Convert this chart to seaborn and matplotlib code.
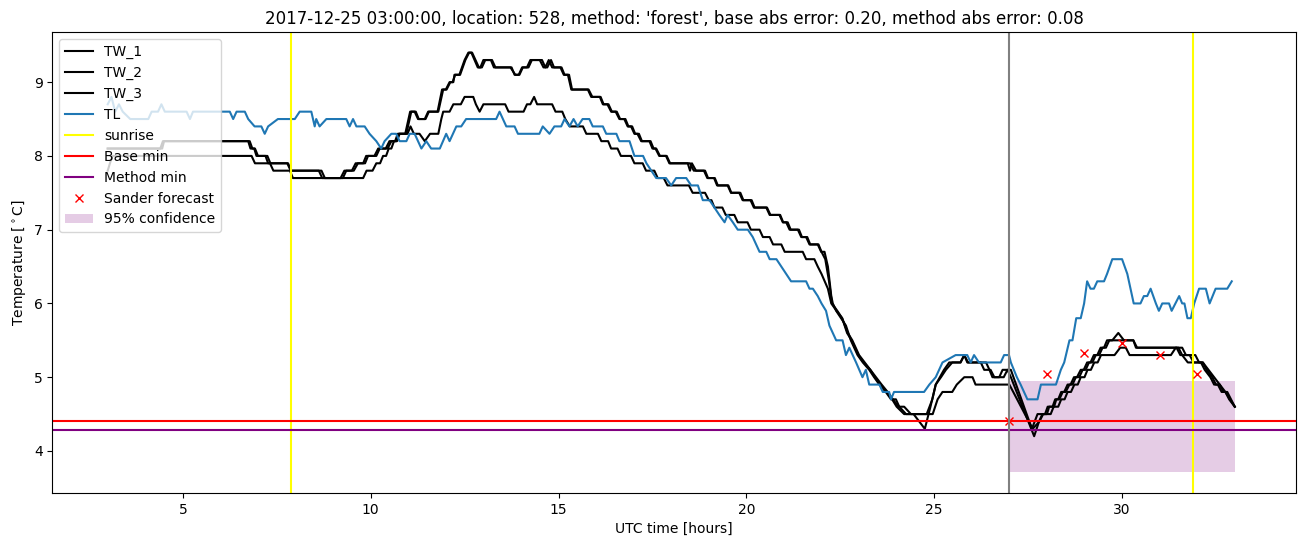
import numpy as np
import pandas as pd
import seaborn as sns
import matplotlib
matplotlib.use("Agg")
import matplotlib.pyplot as plt

# water temperature sensors (hours UTC, degrees C)
tw1_t = [3.0, 4.45, 4.5, 6.74, 6.8, 6.9, 6.96, 7.2, 7.27, 7.35, 7.4, 7.8, 7.89, 8.69, 8.78, 9.26,
         9.35, 9.55, 9.66, 9.85, 9.93, 10.15, 10.24, 10.45, 10.55, 10.7, 10.77, 10.95, 11.08, 11.17,
         11.26, 11.44, 11.53, 11.8, 11.93, 12.0, 12.1, 12.2, 12.23, 12.36, 12.5, 12.6, 12.7, 12.88,
         12.96, 13.05, 13.23, 13.32, 13.72, 13.85, 13.94, 14.03, 14.2, 14.29, 14.56, 14.65, 14.74,
         14.83, 15.05, 15.14, 15.25, 15.34, 15.78, 15.87, 16.1, 16.18, 16.3, 16.4, 16.52, 16.62,
         16.75, 16.84, 16.93, 17.02, 17.1, 17.2, 17.42, 17.5, 17.58, 17.68, 17.86, 17.95, 18.44,
         18.5, 18.55, 18.66, 18.87, 18.96, 19.14, 19.22, 19.5, 19.59, 19.81, 19.9, 20.11, 20.2,
         20.53, 20.62, 20.88, 20.97, 21.06, 21.15, 21.37, 21.46, 21.59, 21.68, 21.9, 21.99, 22.08,
         22.17, 22.26, 22.3, 22.39, 22.52, 22.65, 22.78, 22.96, 23.1, 23.27, 23.4, 23.54, 23.71,
         23.85, 23.98, 24.07, 24.25, 24.8, 24.95, 25.04, 25.18, 25.31, 25.48, 25.7, 25.8, 25.88,
         26.24, 26.33, 26.5, 26.6, 26.73, 26.82, 26.95, 27.04, 27.66, 27.79, 27.88, 28.0, 28.06,
         28.19, 28.25, 28.33, 28.42, 28.5, 28.6, 28.68, 28.77, 28.86, 28.95, 29.03, 29.12, 29.21,
         29.3, 29.39, 29.48, 29.57, 29.66, 29.74, 29.9, 30.05, 30.3, 30.37, 31.45, 31.55, 31.8,
         31.9, 32.1, 32.2, 32.35, 32.45, 32.55, 32.65, 32.75, 32.85, 33.0]
tw1_v = [8.1, 8.1, 8.2, 8.2, 8.1, 8.1, 8.0, 8.0, 7.9, 7.9, 7.9, 7.9, 7.8, 7.8, 7.7, 7.7,
         7.8, 7.8, 7.9, 7.9, 8.0, 8.0, 8.1, 8.1, 8.2, 8.2, 8.3, 8.3, 8.6, 8.6,
         8.5, 8.5, 8.6, 8.6, 8.9, 8.9, 9.0, 9.0, 9.1, 9.1, 9.3, 9.4, 9.4, 9.2,
         9.2, 9.3, 9.3, 9.2, 9.2, 9.1, 9.1, 9.2, 9.2, 9.3, 9.3, 9.2, 9.3,
         9.2, 9.2, 9.1, 9.1, 8.9, 8.9, 8.8, 8.8, 8.7, 8.7, 8.6, 8.6, 8.5,
         8.5, 8.4, 8.4, 8.3, 8.3, 8.2, 8.2, 8.1, 8.1, 8.0, 8.0, 7.9, 7.9,
         7.8, 7.9, 7.8, 7.8, 7.7, 7.7, 7.6, 7.6, 7.5, 7.5, 7.4, 7.4, 7.3,
         7.3, 7.2, 7.2, 7.1, 7.1, 7.0, 7.0, 6.9, 6.9, 6.8, 6.8, 6.7, 6.7,
         6.5, 6.1, 6.0, 5.9, 5.8, 5.7, 5.5, 5.3, 5.2, 5.1, 5.0, 4.9, 4.8,
         4.7, 4.7, 4.6, 4.5, 4.5, 4.7, 4.9, 5.0, 5.1, 5.2, 5.2, 5.3, 5.2,
         5.2, 5.1, 5.1, 5.0, 5.0, 5.1, 5.1, 5.0, 4.2, 4.4, 4.5, 4.5, 4.6,
         4.6, 4.7, 4.7, 4.8, 4.8, 4.9, 4.9, 5.0, 5.0, 5.1, 5.1, 5.2, 5.2,
         5.3, 5.3, 5.4, 5.4, 5.5, 5.5, 5.6, 5.5, 5.5, 5.4, 5.4, 5.3, 5.3,
         5.2, 5.2, 5.1, 5.0, 4.9, 4.9, 4.8, 4.8, 4.7, 4.6]

tw2_t = [3.0, 4.4, 4.47, 6.78, 6.85, 6.92, 7.0, 7.25, 7.33, 7.78, 7.87, 8.62, 8.71, 9.2, 9.3,
         9.5, 9.6, 9.8, 9.88, 10.1, 10.2, 10.4, 10.5, 10.65, 10.72, 10.92, 11.05, 11.2, 11.28,
         11.46, 11.55, 11.78, 11.9, 12.02, 12.12, 12.18, 12.25, 12.38, 12.52, 12.62, 12.68,
         12.85, 12.92, 13.0, 13.2, 13.28, 13.75, 13.83, 13.96, 14.05, 14.16, 14.25, 14.5, 14.6,
         14.7, 14.8, 14.88, 15.08, 15.16, 15.28, 15.36, 15.8, 15.9, 16.12, 16.2, 16.33, 16.42,
         16.55, 16.64, 16.78, 16.86, 16.96, 17.04, 17.14, 17.22, 17.45, 17.53, 17.6, 17.7,
         17.88, 17.97, 18.5, 18.6, 18.9, 18.98, 19.16, 19.24, 19.52, 19.6, 19.84, 19.92, 20.14,
         20.22, 20.55, 20.64, 20.9, 20.98, 21.1, 21.18, 21.4, 21.48, 21.62, 21.7, 21.92, 22.0,
         22.1, 22.2, 22.28, 22.42, 22.55, 22.68, 22.8, 22.98, 23.12, 23.3, 23.42, 23.56, 23.74,
         23.88, 24.0, 24.2, 24.45, 24.6, 24.75, 24.9, 25.04, 25.15, 25.26, 25.4, 25.7, 25.8,
         25.9, 26.38, 26.47, 26.55, 26.85, 26.95, 27.04, 27.6, 27.75, 27.95, 28.02, 28.15,
         28.22, 28.3, 28.38, 28.46, 28.55, 28.63, 28.72, 28.8, 28.9, 28.98, 29.07, 29.16, 29.25,
         29.34, 29.43, 29.52, 29.6, 30.3, 30.4, 31.6, 31.7, 31.95, 32.05, 32.15, 32.25, 32.4,
         32.5, 32.6, 32.7, 32.8, 32.9, 33.0]
tw2_v = [8.1, 8.1, 8.2, 8.2, 8.1, 8.1, 8.0, 8.0, 7.9, 7.9, 7.8, 7.8, 7.7, 7.7, 7.8,
         7.8, 7.9, 7.9, 8.0, 8.0, 8.1, 8.1, 8.2, 8.2, 8.3, 8.3, 8.6, 8.6, 8.5,
         8.5, 8.6, 8.6, 8.9, 8.9, 9.0, 9.0, 9.1, 9.1, 9.3, 9.4, 9.4,
         9.2, 9.2, 9.3, 9.3, 9.2, 9.2, 9.1, 9.1, 9.2, 9.2, 9.3, 9.3, 9.2,
         9.2, 9.3, 9.2, 9.2, 9.1, 9.1, 8.9, 8.9, 8.8, 8.8, 8.7, 8.7, 8.6,
         8.6, 8.5, 8.5, 8.4, 8.4, 8.3, 8.3, 8.2, 8.2, 8.1, 8.1, 8.0,
         8.0, 7.9, 7.9, 7.8, 7.8, 7.7, 7.7, 7.6, 7.6, 7.5, 7.5, 7.4, 7.4,
         7.3, 7.3, 7.2, 7.2, 7.1, 7.1, 7.0, 7.0, 6.9, 6.9, 6.8, 6.8, 6.7,
         6.6, 6.3, 6.0, 5.9, 5.8, 5.6, 5.5, 5.3, 5.2, 5.1, 5.0, 4.9, 4.8,
         4.7, 4.6, 4.5, 4.5, 4.4, 4.3, 4.6, 4.9, 5.0, 5.1, 5.2, 5.2, 5.3,
         5.2, 5.2, 5.1, 5.0, 5.0, 5.1, 5.1, 4.3, 4.5, 4.5, 4.6, 4.6,
         4.7, 4.7, 4.8, 4.8, 4.9, 4.9, 5.0, 5.0, 5.1, 5.1, 5.2, 5.2, 5.3,
         5.3, 5.4, 5.4, 5.5, 5.5, 5.4, 5.4, 5.3, 5.3, 5.2, 5.2, 5.1, 5.0,
         4.9, 4.9, 4.8, 4.8, 4.7, 4.6]

tw3_t = [3.0, 3.12, 6.83, 6.92, 7.32, 7.41, 7.85, 7.93, 9.8, 9.89, 10.05, 10.15, 10.25, 10.33,
         10.41, 10.48, 10.55, 10.62, 10.68, 10.75, 10.98, 11.06, 11.15, 11.3, 11.44, 11.58, 11.8,
         11.88, 11.93, 12.1, 12.2, 12.4, 12.5, 12.73, 12.8, 12.9, 13.0, 13.58, 13.67, 14.07,
         14.16, 14.25, 14.35, 14.43, 14.83, 14.92, 15.1, 15.18, 15.3, 15.65, 15.74, 16.05, 16.14,
         16.32, 16.4, 16.57, 16.66, 16.93, 17.02, 17.24, 17.33, 17.55, 17.64, 17.8, 17.9, 18.47,
         18.57, 18.9, 19.0, 19.07, 19.15, 19.36, 19.45, 19.68, 19.77, 20.03, 20.12, 20.35, 20.44,
         20.62, 20.71, 20.93, 21.02, 21.5, 21.59, 21.81, 21.9, 22.0, 22.17, 22.26, 22.4, 22.55,
         22.7, 22.82, 23.0, 23.15, 23.3, 23.45, 23.6, 23.76, 23.9, 24.05, 24.2, 24.38, 24.96,
         25.09, 25.22, 25.48, 25.6, 25.8, 26.02, 26.1, 27.0, 27.62, 27.8, 27.9, 28.1, 28.18,
         28.3, 28.38, 28.47, 28.55, 28.64, 28.73, 28.82, 28.9, 29.0, 29.08, 29.17, 29.26, 29.35,
         29.44, 29.8, 29.95, 30.1, 30.2, 31.3, 31.43, 31.5, 31.6, 31.75, 32.15, 32.3, 32.45,
         32.6, 32.75, 33.0]
tw3_v = [7.8, 8.0, 8.0, 7.9, 7.9, 7.8, 7.8, 7.7, 7.7, 7.8, 7.8, 7.9, 7.9, 8.0,
         8.0, 8.1, 8.1, 8.2, 8.2, 8.3, 8.3, 8.4, 8.3, 8.3, 8.2, 8.3, 8.3,
         8.5, 8.6, 8.6, 8.7, 8.7, 8.8, 8.8, 8.7, 8.6, 8.7, 8.7, 8.6, 8.6,
         8.7, 8.7, 8.8, 8.7, 8.7, 8.6, 8.6, 8.5, 8.4, 8.4, 8.3, 8.3, 8.2,
         8.2, 8.1, 8.1, 8.0, 8.0, 7.9, 7.9, 7.8, 7.8, 7.7, 7.7, 7.6, 7.6,
         7.5, 7.5, 7.4, 7.4, 7.3, 7.3, 7.2, 7.2, 7.1, 7.1, 7.0, 7.0, 6.9,
         6.9, 6.8, 6.8, 6.7, 6.7, 6.6, 6.6, 6.5, 6.4, 6.2, 6.0, 5.9, 5.8,
         5.6, 5.5, 5.3, 5.2, 5.1, 5.0, 4.9, 4.8, 4.7, 4.6, 4.6, 4.5, 4.5,
         4.7, 4.8, 4.8, 4.9, 5.0, 5.0, 4.9, 4.9, 4.3, 4.4, 4.5, 4.5, 4.6,
         4.6, 4.7, 4.7, 4.8, 4.8, 4.9, 4.9, 5.0, 5.0, 5.1, 5.1, 5.2, 5.2,
         5.3, 5.3, 5.4, 5.4, 5.3, 5.3, 5.4, 5.4, 5.3, 5.2, 5.2, 5.1, 5.0,
         4.9, 4.8, 4.6]

# air temperature
tl_t = [3.0, 3.1, 3.2, 3.3, 3.4, 3.6, 4.08, 4.17, 4.34, 4.43, 4.52, 5.1, 5.19, 5.27, 6.25, 6.34,
        6.43, 6.65, 6.74, 6.91, 7.09, 7.18, 7.27, 7.53, 7.98, 8.11, 8.42, 8.51, 8.55, 8.64, 8.82,
        9.35, 9.44, 9.53, 9.62, 9.84, 9.97, 10.15, 10.28, 10.37, 10.55, 10.68, 10.77, 10.95,
        11.04, 11.17, 11.35, 11.48, 11.61, 11.84, 12.01, 12.1, 12.28, 12.41, 12.54, 13.34, 13.43,
        13.61, 13.83, 13.92, 14.49, 14.58, 14.76, 14.89, 15.07, 15.16, 15.29, 15.4, 15.51, 15.64,
        15.82, 15.91, 16.18, 16.27, 16.54, 16.62, 16.89, 17.02, 17.25, 17.34, 17.47, 17.6, 17.86,
        18.0, 18.13, 18.4, 18.53, 18.71, 18.84, 19.02, 19.15, 19.28, 19.42, 19.5, 19.64, 19.77,
        20.04, 20.17, 20.35, 20.53, 20.62, 20.8, 20.93, 21.06, 21.19, 21.59, 21.68, 21.77, 21.9,
        22.0, 22.12, 22.21, 22.39, 22.56, 22.65, 22.74, 22.92, 23.09, 23.18, 23.27, 23.54, 23.63,
        23.8, 23.85, 23.93, 24.73, 24.87, 25.04, 25.22, 25.57, 25.88, 25.97, 26.06, 26.19, 26.77,
        26.86, 26.99, 27.04, 27.2, 27.3, 27.48, 27.75, 27.84, 28.24, 28.37, 28.46, 28.6, 28.68,
        28.78, 28.9, 28.99, 29.07, 29.16, 29.25, 29.34, 29.52, 29.6, 29.74, 30.0, 30.14, 30.31,
        30.49, 30.58, 30.67, 30.76, 30.9, 30.98, 31.07, 31.25, 31.32, 31.52, 31.6, 31.66, 31.74,
        31.83, 31.92, 32.05, 32.23, 32.33, 32.49, 32.8, 32.92]
tl_v = [8.7, 8.8, 8.6, 8.7, 8.6, 8.5, 8.5, 8.6, 8.6, 8.7, 8.6, 8.6, 8.5, 8.6, 8.6, 8.5,
        8.6, 8.6, 8.5, 8.4, 8.4, 8.3, 8.4, 8.5, 8.5, 8.6, 8.6, 8.4, 8.5, 8.4, 8.5,
        8.5, 8.4, 8.5, 8.4, 8.4, 8.3, 8.2, 8.1, 8.2, 8.3, 8.3, 8.2, 8.2,
        8.3, 8.3, 8.1, 8.2, 8.1, 8.1, 8.3, 8.2, 8.4, 8.4, 8.5, 8.5, 8.6,
        8.4, 8.4, 8.3, 8.3, 8.4, 8.3, 8.4, 8.4, 8.5, 8.4, 8.5, 8.4, 8.5,
        8.5, 8.4, 8.4, 8.3, 8.3, 8.2, 8.2, 8.0, 8.0, 7.9, 7.8, 7.7, 7.7,
        7.6, 7.7, 7.7, 7.6, 7.6, 7.4, 7.4, 7.3, 7.2, 7.1, 7.2, 7.1, 7.0,
        7.0, 6.9, 6.7, 6.7, 6.6, 6.6, 6.5, 6.4, 6.3, 6.3, 6.2, 6.2, 6.1,
        6.0, 5.9, 5.7, 5.5, 5.5, 5.3, 5.4, 5.2, 5.0, 5.1, 4.9, 4.9, 4.8,
        4.8, 4.7, 4.8, 4.8, 4.9, 5.0, 5.2, 5.3, 5.3, 5.2, 5.3, 5.2, 5.2,
        5.3, 5.3, 5.2, 5.0, 4.9, 4.7, 4.7, 4.9, 4.9, 5.1, 5.2, 5.5, 5.5,
        5.8, 5.8, 6.0, 6.3, 6.2, 6.2, 6.3, 6.3, 6.4, 6.6, 6.6, 6.4, 6.0,
        6.0, 6.1, 6.1, 6.2, 6.0, 5.9, 6.0, 6.0, 5.9, 6.1, 6.0, 6.0, 5.8,
        5.8, 6.0, 6.2, 6.2, 6.0, 6.2, 6.2, 6.3]

sunrise_hours = [7.88, 31.89]
forecast_start = 27.0
base_min = 4.41
method_min = 4.28

sander_t = [27.0, 28.0, 29.0, 30.0, 31.0, 32.0]
sander_v = [4.41, 5.05, 5.33, 5.46, 5.30, 5.04]

conf_t = [27.0, 33.0]
conf_low = [3.71, 3.71]
conf_high = [4.95, 4.95]

title = ("2017-12-25 03:00:00, location: 528, method: 'forest', "
         "base abs error: 0.20, method abs error: 0.08")

fig, ax = plt.subplots(figsize=(13.02, 5.47), dpi=100)
fig.subplots_adjust(left=0.0403, right=0.9954, top=0.9415, bottom=0.0987)

for t, v, name in [(tw1_t, tw1_v, "TW_1"), (tw2_t, tw2_v, "TW_2"), (tw3_t, tw3_v, "TW_3")]:
    sns.lineplot(x=t, y=v, color="black", label=name, ax=ax, sort=False, estimator=None)
sns.lineplot(x=tl_t, y=tl_v, color="#1f77b4", label="TL", ax=ax, sort=False, estimator=None)

for i, h in enumerate(sunrise_hours):
    ax.axvline(h, color="yellow", label="sunrise" if i == 0 else None)
ax.axhline(base_min, color="red", label="Base min")
ax.axhline(method_min, color="purple", label="Method min")
ax.plot(sander_t, sander_v, "x", color="red", label="Sander forecast")
ax.fill_between(conf_t, conf_low, conf_high, color="purple", alpha=0.2, linewidth=0,
                label="95% confidence")
ax.axvline(forecast_start, color="gray")

ax.set_xlim(1.53, 34.63)
ax.set_ylim(3.43, 9.68)
ax.set_xlabel("UTC time [hours]")
ax.set_ylabel("Temperature [$^\\circ$C]")
ax.set_title(title)
ax.legend(loc="upper left")

fig.savefig("out.png", dpi=100)
